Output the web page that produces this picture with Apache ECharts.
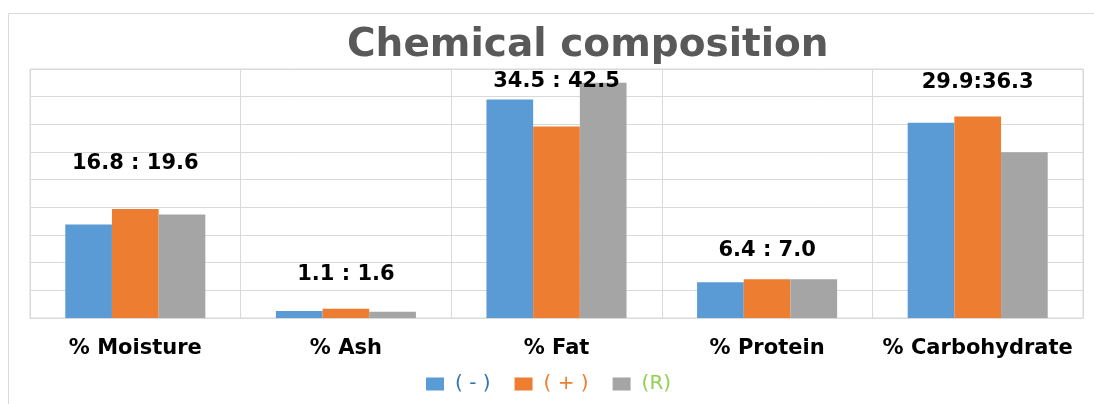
<!DOCTYPE html>
<html>
<head>
<meta charset="utf-8">
<script src="https://cdn.jsdelivr.net/npm/echarts@6/dist/echarts.min.js"></script>
<style>
  html, body { margin: 0; padding: 0; background: #fff; }
  #chart { width: 1094px; height: 404px; }
</style>
</head>
<body>
<div id="chart"></div>
<script>
// Chemical composition: three treatments per component, with a range note above each group.
const categories = ["% Moisture", "% Ash", "% Fat", "% Protein", "% Carbohydrate"];
const seriesNames = ["( - )", "( + )", "(R)"];
const minus = [16.9, 1.25, 39.5, 6.45, 35.3];
const plus = [19.7, 1.65, 34.6, 7.0, 36.4];
const ref = [18.7, 1.15, 42.5, 7.0, 29.95];
const rangeText = ["16.8 : 19.6", "1.1 : 1.6", "34.5 : 42.5", "6.4 : 7.0", "29.9:36.3"];
const rangeAt = [28.0, 7.8, 42.65, 12.1, 42.5]; // height of each note, in axis units

const COLORS = ["#5B9BD5", "#ED7D31", "#A5A5A5"];
const LEGEND_TEXT = ["#2E75B6", "#ED7D31", "#92D050"];
const GRID = "#D9D9D9";
const FONT = "DejaVu Sans";

const chart = echarts.init(document.getElementById("chart"), null, { renderer: "canvas" });

const bars = [minus, plus, ref].map((vals, i) => ({
  name: seriesNames[i],
  type: "bar",
  data: vals,
  barGap: "0%",
  barCategoryGap: "33.5%",
  itemStyle: { color: COLORS[i] },
}));

chart.setOption({
  animation: false,
  title: {
    text: "Chemical composition",
    left: 342,
    top: 21,
    textStyle: { fontFamily: FONT, fontWeight: "bold", fontSize: 39, color: "#595959" },
  },
  graphic: [{
    type: "rect",
    shape: { x: 8.5, y: 13.5, width: 1200, height: 500 },
    style: { fill: null, stroke: GRID, lineWidth: 1 },
    silent: true,
    z: -10,
  }],
  legend: {
    data: seriesNames.map((n, i) => ({ name: n, textStyle: { color: LEGEND_TEXT[i] } })),
    left: 421,
    top: 369,
    itemWidth: 18,
    itemHeight: 13,
    itemGap: 24,
    icon: "rect",
    textStyle: { fontFamily: FONT, fontSize: 20, padding: [0, 0, 0, 6] },
  },
  grid: { left: 30, top: 69, right: 11, bottom: 86, show: true, borderColor: GRID, borderWidth: 1 },
  xAxis: {
    type: "category",
    data: categories,
    axisLine: { show: true, lineStyle: { color: GRID } },
    axisTick: { show: false },
    splitLine: { show: true, interval: 0, lineStyle: { color: GRID, width: 1 } },
    axisLabel: { interval: 0, fontFamily: FONT, fontWeight: "bold", fontSize: 21, color: "#000", margin: 20 },
  },
  yAxis: {
    type: "value",
    min: 0,
    max: 45,
    interval: 5,
    axisLabel: { show: false },
    axisLine: { show: false },
    axisTick: { show: false },
    splitLine: { lineStyle: { color: GRID, width: 1 } },
  },
  series: [
    ...bars,
    {
      name: "notes",
      type: "scatter",
      symbolSize: 0,
      silent: true,
      itemStyle: { opacity: 1 },
      data: rangeAt.map((v, i) => ({ value: [i, v], label: { formatter: rangeText[i] } })),
      label: {
        show: true,
        position: "inside",
        fontFamily: FONT,
        fontWeight: "bold",
        fontSize: 21,
        color: "#000",
        textBorderWidth: 0,
      },
      z: 10,
    },
  ],
});
</script>
</body>
</html>
